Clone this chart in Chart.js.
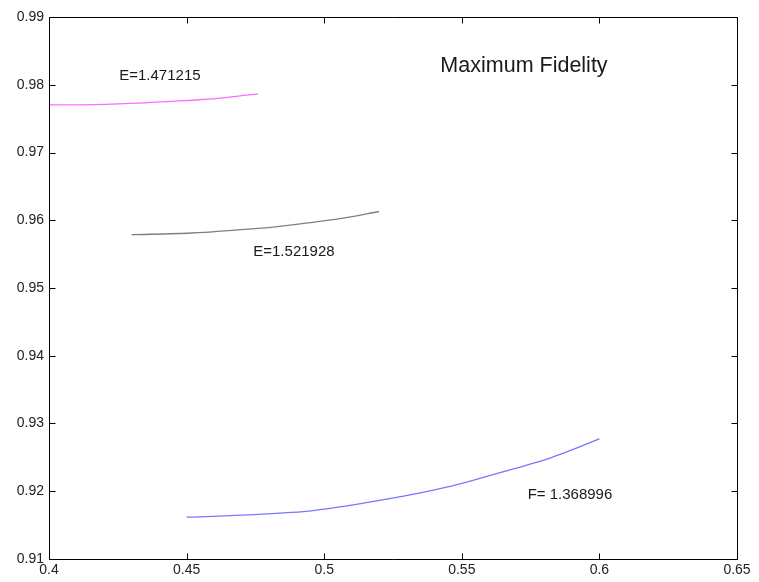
<!DOCTYPE html>
<html>
<head>
<meta charset="utf-8">
<script src="https://cdn.jsdelivr.net/npm/chart.js@4/dist/chart.umd.min.js"></script>
<style>
html,body{margin:0;padding:0;background:#fff;}
#wrap{width:759px;height:582px;position:relative;}
</style>
</head>
<body>
<div id="wrap"><canvas id="c" width="759" height="582"></canvas></div>
<script>
// Data
const magentaX = [0.400, 0.4167, 0.4349, 0.4440, 0.4531, 0.4650, 0.4760];
const magentaY = [0.97703, 0.97708, 0.97733, 0.97755, 0.97775, 0.97815, 0.97866];
const grayX = [0.4300, 0.4519, 0.4761, 0.4876, 0.5057, 0.5199];
const grayY = [0.95787, 0.95812, 0.95880, 0.95928, 0.96024, 0.96129];
const blueX = [0.4500, 0.4718, 0.4960, 0.5227, 0.5445, 0.5639, 0.5820, 0.6000];
const blueY = [0.91617, 0.91651, 0.91715, 0.91883, 0.92061, 0.92276, 0.92490, 0.92772];
const xTicks = [0.4, 0.45, 0.5, 0.55, 0.6, 0.65];
const yTicks = [0.91, 0.92, 0.93, 0.94, 0.95, 0.96, 0.97, 0.98, 0.99];
const labelTexts = ['E=1.471215', 'E=1.521928', 'F= 1.368996', 'Maximum Fidelity'];
const labelX = [0.4403, 0.4890, 0.5893, 0.5726];
const labelY = [0.98126, 0.95530, 0.91947, 0.98273];

const pts = (xs, ys) => xs.map((x, i) => ({x: x, y: ys[i]}));

const boxPlugin = {
  id: 'box',
  afterDatasetsDraw(chart) {
    const {ctx, chartArea: a, scales: {x, y}} = chart;
    ctx.save();
    ctx.strokeStyle = '#000';
    ctx.lineWidth = 1;
    const L = Math.round(a.left) + 0.5, R = Math.round(a.right) + 0.5;
    const T = Math.round(a.top) + 0.5, B = Math.round(a.bottom) + 0.5;
    ctx.beginPath();
    ctx.rect(L, T, R - L, B - T);
    const tl = 6;
    xTicks.forEach(v => {
      const px = Math.round(x.getPixelForValue(v)) + 0.5;
      ctx.moveTo(px, B); ctx.lineTo(px, B - tl);
      ctx.moveTo(px, T); ctx.lineTo(px, T + tl);
    });
    yTicks.forEach(v => {
      const py = Math.round(y.getPixelForValue(v)) + 0.5;
      ctx.moveTo(L, py); ctx.lineTo(L + tl, py);
      ctx.moveTo(R, py); ctx.lineTo(R - tl, py);
    });
    ctx.stroke();
    // text labels
    ctx.fillStyle = '#1a1a1a';
    ctx.textAlign = 'center';
    ctx.textBaseline = 'middle';
    labelTexts.forEach((t, i) => {
      ctx.font = (i === 3 ? '21.5px' : '15px') + ' "Liberation Sans", Arial, sans-serif';
      ctx.fillText(t, x.getPixelForValue(labelX[i]), y.getPixelForValue(labelY[i]));
    });
    ctx.restore();
  }
};

const fmt = v => String(Number(Number(v).toFixed(2)));

new Chart(document.getElementById('c'), {
  type: 'scatter',
  data: {
    datasets: [
      {data: pts(magentaX, magentaY), borderColor: '#ff6cff', borderWidth: 1.3, showLine: true, pointRadius: 0, tension: 0.3},
      {data: pts(grayX, grayY), borderColor: '#7f7f7f', borderWidth: 1.3, showLine: true, pointRadius: 0, tension: 0.3},
      {data: pts(blueX, blueY), borderColor: '#7777ff', borderWidth: 1.3, showLine: true, pointRadius: 0, tension: 0.3}
    ]
  },
  options: {
    responsive: false,
    animation: false,
    events: [],
    layout: {padding: {top: 17, right: 22, left: 0, bottom: 0}},
    plugins: {legend: {display: false}, tooltip: {enabled: false}},
    scales: {
      x: {
        type: 'linear', min: 0.4, max: 0.65,
        afterBuildTicks: s => { s.ticks = xTicks.map(v => ({value: v})); },
        afterFit: s => { s.height = 23; },
        grid: {display: false, drawTicks: false},
        border: {display: false},
        ticks: {callback: fmt, color: '#222', padding: 3, maxRotation: 0, autoSkip: false,
                font: {family: '"Liberation Sans", Arial, sans-serif', size: 14}}
      },
      y: {
        type: 'linear', min: 0.91, max: 0.99,
        afterBuildTicks: s => { s.ticks = yTicks.map(v => ({value: v})); },
        afterFit: s => { s.width = 49; },
        grid: {display: false, drawTicks: false},
        border: {display: false},
        ticks: {callback: fmt, color: '#222', padding: 5, autoSkip: false,
                font: {family: '"Liberation Sans", Arial, sans-serif', size: 14}}
      }
    }
  },
  plugins: [boxPlugin]
});
</script>
</body>
</html>
